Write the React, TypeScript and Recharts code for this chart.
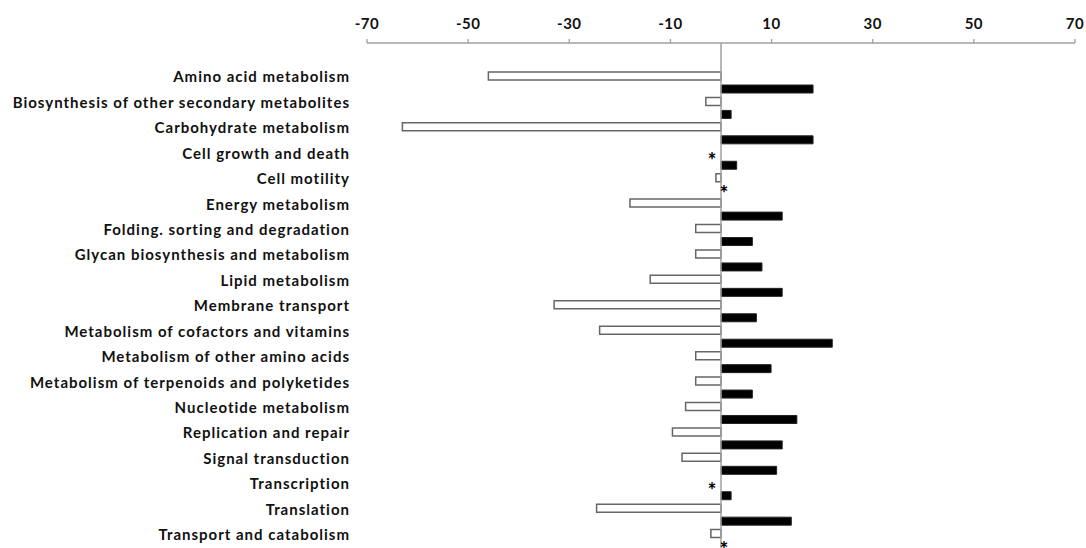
import React from 'react';
import { BarChart, Bar, XAxis, YAxis, ReferenceLine, ReferenceDot } from 'recharts';

const categories = [
  'Amino acid metabolism',
  'Biosynthesis of other secondary metabolites',
  'Carbohydrate metabolism',
  'Cell growth and death',
  'Cell motility',
  'Energy metabolism',
  'Folding. sorting and degradation',
  'Glycan biosynthesis and metabolism',
  'Lipid metabolism',
  'Membrane transport',
  'Metabolism of cofactors and vitamins',
  'Metabolism of other amino acids',
  'Metabolism of terpenoids and polyketides',
  'Nucleotide metabolism',
  'Replication and repair',
  'Signal transduction',
  'Transcription',
  'Translation',
  'Transport and catabolism',
];

const downValues = [-46, -3, -63, 0, -1, -18, -5, -5, -14, -33, -24, -5, -5, -7, -9.6, -7.7, 0, -24.6, -2];
const upValues = [18.2, 2, 18.2, 3.1, 0, 12.1, 6.2, 8.1, 12.1, 7, 22, 9.9, 6.2, 15, 12.1, 11, 2, 13.9, 0];
// categories where a series has an asterisk instead of a bar
const downStarCats = ['Cell growth and death', 'Transcription'];
const upStarCats = ['Cell motility', 'Transport and catabolism'];
const xTicks = [-70, -50, -30, -10, 10, 30, 50, 70];

const data = categories.map((name, i) => ({
  name,
  down: downValues[i],
  up: upValues[i],
}));

const FONT = 'Lato, "Open Sans", sans-serif';

const YTick = (props: any) => {
  const { x, y, payload } = props;
  return (
    <text
      x={x}
      y={y - 5.5}
      dy="0.35em"
      textAnchor="end"
      fontFamily={FONT}
      fontWeight={700}
      fontSize={15}
      letterSpacing={1}
      fill="#111"
    >
      {payload.value}
    </text>
  );
};

const starShape = (dx: number, dy: number) => (props: any) => {
  const { cx, cy } = props;
  return (
    <text
      x={Number(cx) + dx}
      y={Number(cy) + dy + 11}
      textAnchor="middle"
      fontFamily={FONT}
      fontWeight={900}
      fontSize={20}
      fill="#000"
    >
      *
    </text>
  );
};

export default function App() {
  return (
    <div style={{ position: 'absolute', left: 0, top: 0, width: 1086, height: 548, overflow: 'hidden', background: '#fff' }}>
      <BarChart
        width={1086}
        height={553}
        data={data}
        layout="vertical"
        margin={{ top: 5, right: 11, left: 0, bottom: 0 }}
        barGap={5}
        barSize={8}
      >
        <XAxis
          type="number"
          orientation="top"
          domain={[-70, 70]}
          ticks={xTicks}
          interval={0}
          height={38}
          tickSize={4}
          tickMargin={10}
          axisLine={{ stroke: '#a0a0a0', strokeWidth: 1.3 }}
          tickLine={{ stroke: '#a0a0a0', strokeWidth: 1.3 }}
          tick={{ fontFamily: FONT, fontWeight: 700, fontSize: 15, fill: '#111', letterSpacing: 0.5 }}
        />
        <YAxis
          type="category"
          dataKey="name"
          width={367}
          axisLine={false}
          tickLine={false}
          tickSize={0}
          tickMargin={17}
          interval={0}
          padding={{ top: 27, bottom: 0 }}
          tick={<YTick />}
        />
        <ReferenceLine x={0} stroke="#a0a0a0" strokeWidth={1.5} />
        <Bar dataKey="down" fill="#ffffff" stroke="#666" strokeWidth={1.5} isAnimationActive={false} />
        <Bar dataKey="up" fill="#000000" stroke="#222" strokeWidth={1} isAnimationActive={false} />
        {downStarCats.map((c) => (
          <ReferenceDot key={'d' + c} x={0} y={c} r={0} ifOverflow="visible" shape={starShape(-9, -2)} />
        ))}
        {upStarCats.map((c) => (
          <ReferenceDot key={'u' + c} x={0} y={c} r={0} ifOverflow="visible" shape={starShape(3, 6)} />
        ))}
      </BarChart>
    </div>
  );
}
